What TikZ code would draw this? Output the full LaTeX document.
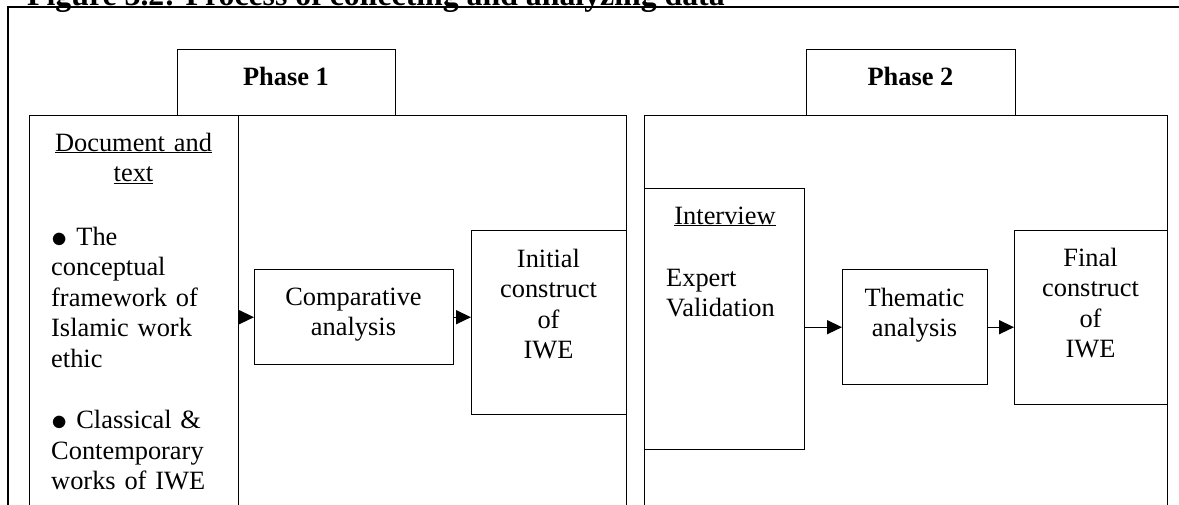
\documentclass[tikz,border=0pt]{standalone}
\usepackage{fontspec}
\usepackage{graphicx}
\setmainfont{Liberation Serif}
\usetikzlibrary{arrows.meta}
\newcommand{\itemdot}{\raisebox{-2pt}{\scalebox{1.3}{$\bullet$}}\hspace{9pt}}
\tikzset{
  box/.style={draw, line width=1.4pt, inner sep=0pt, anchor=north west},
  txt/.style={inner sep=0pt, font=\fontsize{26.4}{30.6}\selectfont},
  hd/.style={inner sep=0pt, font=\fontsize{26.4}{30.6}\selectfont\bfseries},
  arr/.style={line width=1.4pt, -{Triangle[length=15pt,width=14pt]}},
}
\begin{document}
\begin{tikzpicture}[x=1pt,y=-1pt]
\useasboundingbox (0,0) rectangle (1179,504);
\clip (0,0) rectangle (1179,504);

% caption, running off the top edge
\node[inner sep=0pt, font=\fontsize{31.8}{34}\selectfont\bfseries, anchor=base west] (title) at (27,5)
  {Figure 3.2: Process of collecting and analyzing data};
\draw[line width=1.4pt] ([yshift=-2.5pt]title.base west) -- ([yshift=-2.5pt]title.base east);

% outer frame
\coordinate (fbl) at (8,520);
\coordinate (ftl) at (8,7);
\coordinate (ftr) at (1190,7);
\draw[line width=1.4pt] (fbl) -- (ftl) -- (ftr);

% phase 1
\node[box, minimum width=218pt, minimum height=66pt] (tab1) at (177,49) {};
\node[hd, anchor=base] (ph1) at (286,85) {Phase 1};
\node[box, minimum width=597pt, minimum height=420pt] (p1) at (29,115) {};
\node[box, minimum width=209pt, minimum height=420pt] (doc) at (29,115) {};
\node[box, minimum width=199pt, minimum height=95pt] (cmp) at (254,269) {};
\node[box, minimum width=155pt, minimum height=184pt] (init) at (471,230) {};

\node[txt, anchor=base, text width=200pt, align=center] (dochd) at (133.5,151)
  {\underline{Document and}\\\underline{text}};
\node[txt, anchor=base west, text width=185pt, align=left] (doclist) at (51,245)
  {\itemdot The\\conceptual\\framework of\\Islamic work\\ethic\\[30.6pt]%
   \itemdot Classical \&\\Contemporary\\works of IWE};
\node[txt, anchor=base, text width=190pt, align=center] (cmptxt) at (353.5,305)
  {Comparative\\analysis};
\node[txt, anchor=base, text width=150pt, align=center] (inittxt) at (548.5,267)
  {Initial\\construct\\of\\IWE};

% phase 2
\node[box, minimum width=209pt, minimum height=66pt] (tab2) at (806,49) {};
\node[hd, anchor=base] (ph2) at (910.5,85) {Phase 2};
\node[box, minimum width=523pt, minimum height=420pt] (p2) at (644,115) {};
\node[box, minimum width=160pt, minimum height=261pt] (iv) at (644,188) {};
\node[box, minimum width=145pt, minimum height=115pt] (th) at (842,269) {};
\node[box, minimum width=153pt, minimum height=174pt] (fin) at (1014,230) {};

\node[txt, anchor=base] (ivhd) at (725,224) {\underline{Interview}};
\node[txt, anchor=base west, text width=135pt, align=left] (ivtxt) at (666,286)
  {Expert\\Validation};
\node[txt, anchor=base, text width=140pt, align=center] (thtxt) at (914.5,306)
  {Thematic\\analysis};
\node[txt, anchor=base, text width=150pt, align=center] (fintxt) at (1090.5,266)
  {Final\\construct\\of\\IWE};

% flow
\draw[arr] (doc.east |- cmp.west) -- (cmp.west);
\draw[arr] (cmp.east) -- (cmp.east -| init.west);
\draw[arr] (iv.east |- th.west) -- (th.west);
\draw[arr] (th.east) -- (th.east -| fin.west);
\end{tikzpicture}
\end{document}
